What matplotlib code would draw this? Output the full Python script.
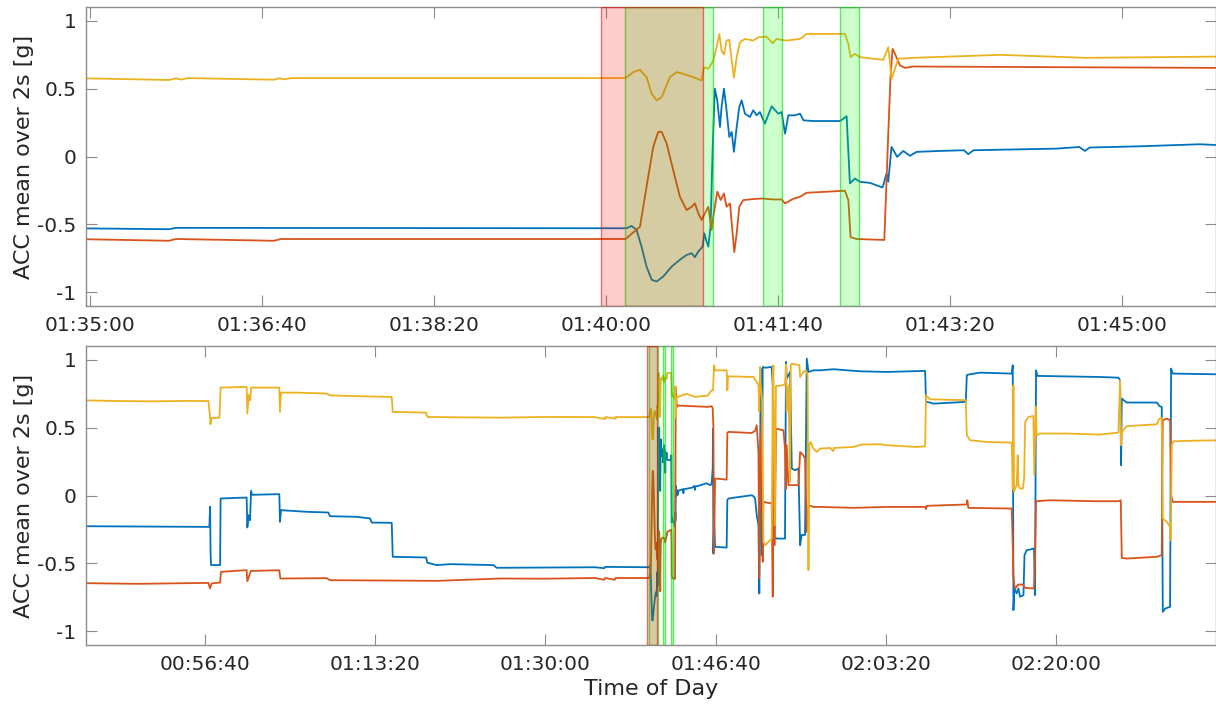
import numpy as np
import matplotlib
matplotlib.use("Agg")
import matplotlib.pyplot as plt
from matplotlib.ticker import FuncFormatter, MultipleLocator

# seconds of day, acceleration [g]  (x = blue, y = orange, z = yellow)
acc_x = [
    (2690, -0.226), (3000, -0.228), (3424, -0.231), (3428, -0.083), (3431, -0.427),
    (3434, -0.512), (3487, -0.512), (3490, -0.022), (3643, -0.015), (3647, -0.235),
    (3655, -0.145), (3663, -0.182), (3669, 0.034), (3675, 0.005), (3835, 0.010),
    (3839, -0.194), (3845, -0.108), (3996, -0.120), (4123, -0.125), (4133, -0.152),
    (4290, -0.157), (4369, -0.169), (4378, -0.199), (4496, -0.201), (4502, -0.451),
    (4698, -0.456), (4706, -0.495), (4761, -0.512), (4839, -0.505), (5094, -0.512),
    (5113, -0.532), (5400, -0.530), (5690, -0.528), (5746, -0.535), (5750, -0.525),
    (5985, -0.528), (6011.9, -0.528), (6014.8, -0.511), (6017.7, -0.540),
    (6020.6, -0.663), (6023.5, -0.810), (6026.5, -0.907), (6029.4, -0.920),
    (6033.2, -0.883), (6038.1, -0.810), (6042.9, -0.760), (6046.8, -0.724),
    (6049.7, -0.712), (6051.6, -0.741), (6053.6, -0.699), (6056.1, -0.663),
    (6057.1, -0.565), (6058.4, -0.626), (6059.4, -0.663), (6060.7, -0.516),
    (6061.9, 0.046), (6063.2, 0.499), (6064.6, 0.413), (6066.2, 0.217),
    (6067.1, 0.364), (6068.5, 0.499), (6070.0, 0.340), (6071.6, 0.144),
    (6073.0, 0.181), (6074.3, 0.034), (6075.9, 0.217), (6077.4, 0.364),
    (6078.8, 0.413), (6080.7, 0.315), (6083.6, 0.291), (6085.5, 0.340),
    (6087.5, 0.303), (6089.4, 0.327), (6092.3, 0.242), (6096.2, 0.369),
    (6100.1, 0.315), (6102.0, 0.327), (6104.0, 0.168), (6105.9, 0.303),
    (6109.8, 0.303), (6112.7, 0.315), (6114.7, 0.266), (6120.6, 0.261),
    (6136.0, 0.261), (6139.8, 0.296), (6141.7, -0.198), (6142.7, -0.186),
    (6144.6, -0.162), (6147.5, -0.186), (6153.3, -0.194), (6160.7, -0.228),
    (6163.0, -0.125), (6164.0, -0.186), (6165.9, 0.071), (6169.2, -0.003),
    (6172.7, 0.041), (6176.6, 0.005), (6180.5, 0.034), (6194, 0.041),
    (6208, 0.046), (6210.5, 0.017), (6213.5, 0.046), (6261.8, 0.058),
    (6275, 0.070), (6278.3, 0.041), (6281, 0.066), (6310, 0.075), (6345, 0.090),
    (6370, 0.076), (6377, 0.088), (6383, 0.198), (6385, 0.492), (6387, -0.427),
    (6391, -0.200), (6397, -0.378), (6465, -0.383), (6469, -0.035), (6475, -0.022),
    (6612, 0.002), (6622, -0.005), (6632, -0.020), (6642, -0.145), (6652, -0.218),
    (6657, -0.721), (6665, 0.934), (6671, -0.439), (6677, 0.946), (6691, 0.940),
    (6730, 0.946), (6736, 0.811), (6740, -0.304), (6760, -0.317), (6808, -0.317),
    (6814, 0.983), (6818, 0.860), (6828, 0.885), (6838, 0.909), (6848, 0.198),
    (6867, 0.186), (6887, 0.198), (6897, -0.366), (6906, -0.290), (6926, -0.290),
    (6936, 1.007), (6946, 0.909), (6975, 0.921), (7014, 0.921), (7093, 0.929),
    (7249, 0.914), (7406, 0.909), (7632, 0.917), (7637, 0.689), (7661, 0.684),
    (7681, 0.676), (7871, 0.689), (7877, 0.885), (7887, 0.890), (7955, 0.904),
    (8141, 0.897), (8147, 0.958), (8151, -0.843), (8157, -0.684), (8170, -0.720),
    (8180, -0.684), (8190, -0.745), (8210, -0.733), (8216, -0.439), (8229, -0.402),
    (8258, -0.395), (8272, -0.390), (8278, -0.733), (8284, 0.921), (8292, 0.880),
    (8660, 0.872), (8768, 0.867), (8778, 0.848), (8784, 0.223), (8788, 0.713),
    (8817, 0.684), (8994, 0.684), (9009, 0.659), (9023, 0.651), (9029, -0.856),
    (9043, -0.832), (9072, -0.819), (9078, 0.934), (9088, 0.897), (9340, 0.892),
]

acc_y = [
    (2690, -0.645), (3000, -0.650), (3418, -0.643), (3428, -0.684), (3437, -0.647),
    (3487, -0.640), (3492, -0.562), (3643, -0.549), (3647, -0.630), (3667, -0.555),
    (3835, -0.550), (3841, -0.611), (4114, -0.608), (4133, -0.623), (4761, -0.628),
    (5133, -0.611), (5400, -0.612), (5690, -0.607), (5746, -0.620), (5750, -0.607),
    (5807, -0.620), (5811, -0.607), (5985, -0.607), (6011.2, -0.607),
    (6012.0, -0.600), (6019.7, -0.516), (6023.5, -0.223), (6027.4, 0.071),
    (6030.3, 0.181), (6032.3, 0.181), (6035.2, 0.095), (6039.0, -0.100),
    (6042.9, -0.296), (6046.8, -0.394), (6049.7, -0.370), (6051.6, -0.345),
    (6053.6, -0.418), (6055.5, -0.467), (6057.5, -0.418), (6059.4, -0.370),
    (6061.3, -0.540), (6062.3, -0.443), (6064.6, -0.259), (6066.6, -0.320),
    (6068.5, -0.272), (6070.0, -0.370), (6072.0, -0.345), (6073.5, -0.565),
    (6074.5, -0.704), (6075.9, -0.565), (6077.4, -0.370), (6079.7, -0.321),
    (6085.5, -0.313), (6090.4, -0.309), (6097.2, -0.316), (6102.0, -0.316),
    (6104.0, -0.345), (6108.8, -0.311), (6112.7, -0.296), (6116.5, -0.267),
    (6138.8, -0.252), (6140.8, -0.321), (6142.1, -0.594), (6145.6, -0.607),
    (6160.1, -0.614), (6161.7, -0.614), (6164.0, 0.168), (6165.3, 0.584),
    (6166.5, 0.792), (6167.9, 0.755), (6170.8, 0.670), (6173.7, 0.652),
    (6178.5, 0.662), (6260, 0.657), (6354, 0.652),
    (6377, 0.657), (6383, 0.640), (6387, 0.505), (6391, -0.427), (6397, 0.125),
    (6465, 0.117), (6469, 0.460), (6475, 0.468), (6612, 0.460), (6632, 0.475),
    (6642, 0.517), (6652, 0.320), (6657, -0.610), (6665, 0.370), (6673, 0.603),
    (6677, -0.488), (6681, -0.047), (6730, -0.059), (6736, -0.745), (6740, 0.345),
    (6748, -0.365), (6755, 0.492), (6799, 0.480), (6808, 0.345), (6814, 0.051),
    (6818, 0.370), (6828, 0.076), (6887, 0.076), (6897, 0.320), (6916, 0.296),
    (6926, 0.272), (6936, -0.267), (6946, -0.071), (6975, -0.084), (7014, -0.084),
    (7210, -0.091), (7406, -0.084), (7632, -0.084), (7637, -0.100), (7641, -0.076),
    (7876, -0.066), (7880, -0.035), (7886, -0.091), (8141, -0.096), (8147, -0.365),
    (8151, -0.586), (8157, -0.672), (8161, -0.684), (8180, -0.655), (8206, -0.655),
    (8220, -0.680), (8272, -0.684), (8278, -0.460), (8284, -0.042), (8366, -0.035),
    (8621, -0.042), (8768, -0.042), (8782, -0.035), (8788, -0.459), (8817, -0.464),
    (8994, -0.451), (9023, -0.439), (9029, 0.554), (9053, 0.566), (9072, 0.554),
    (9078, 0.002), (9088, -0.047), (9340, -0.047),
]

acc_z = [
    (2690, 0.700), (2900, 0.695), (3100, 0.693), (3300, 0.696), (3418, 0.695),
    (3428, 0.578), (3430, 0.524), (3436, 0.570), (3483, 0.573), (3490, 0.794),
    (3643, 0.799), (3647, 0.603), (3655, 0.740), (3663, 0.700), (3670, 0.794),
    (3835, 0.794), (3839, 0.615), (3845, 0.757), (3937, 0.757), (4114, 0.750),
    (4133, 0.737), (4290, 0.731), (4496, 0.725), (4502, 0.615), (4698, 0.610),
    (4706, 0.578), (4900, 0.575), (5133, 0.573), (5400, 0.578), (5690, 0.577),
    (5746, 0.563), (5750, 0.575), (5753, 0.566), (5757, 0.577), (5807, 0.565),
    (5810, 0.576), (5813, 0.568), (5817, 0.577), (5985, 0.577), (6011.2, 0.577),
    (6015.8, 0.621), (6019.7, 0.638), (6023.5, 0.584), (6026.5, 0.462),
    (6029.4, 0.413), (6032.3, 0.437), (6037.1, 0.584), (6041.0, 0.621),
    (6044.9, 0.608), (6050.7, 0.584), (6055.5, 0.560), (6056.9, 0.657),
    (6059.4, 0.645), (6062.3, 0.706), (6064.2, 0.804), (6065.8, 0.902),
    (6067.1, 0.780), (6068.5, 0.750), (6070.0, 0.853), (6071.6, 0.858),
    (6073.0, 0.706), (6074.3, 0.579), (6075.9, 0.731), (6077.8, 0.841),
    (6080.7, 0.865), (6085.5, 0.853), (6088.5, 0.877), (6093.3, 0.882),
    (6096.8, 0.833), (6099.1, 0.865), (6102.0, 0.858), (6104.9, 0.853),
    (6112.7, 0.865), (6116.5, 0.902), (6138.8, 0.902), (6140.8, 0.829),
    (6142.1, 0.731), (6144.6, 0.755), (6147.5, 0.731), (6161.1, 0.711),
    (6164.0, 0.804), (6165.9, 0.572), (6169.8, 0.719), (6178.5, 0.726),
    (6229, 0.748), (6279, 0.726), (6354, 0.735),
    (6377, 0.774), (6385, 0.774), (6391, 0.958), (6397, 0.921), (6465, 0.921),
    (6469, 0.774), (6473, 0.877), (6612, 0.872), (6622, 0.872), (6642, 0.835),
    (6652, 0.811), (6657, 0.615), (6661, 0.946), (6665, 0.811), (6673, 0.713),
    (6681, -0.341), (6691, -0.366), (6730, -0.317), (6736, 0.786), (6740, 0.958),
    (6748, -0.218), (6755, 0.806), (6769, 0.806), (6808, 0.816), (6814, 0.963),
    (6818, 0.615), (6828, 0.811), (6838, 0.100), (6842, 0.958), (6848, 0.970),
    (6893, 0.958), (6897, 0.872), (6916, 0.909), (6932, 0.921), (6941, 0.885),
    (6946, -0.549), (6951, 0.370), (6958, 0.394), (6975, 0.345), (6995, 0.321),
    (7014, 0.345), (7073, 0.350), (7092, 0.326), (7096, 0.350), (7210, 0.357),
    (7259, 0.375), (7367, 0.377), (7406, 0.370), (7583, 0.357), (7632, 0.362),
    (7637, 0.737), (7661, 0.708), (7871, 0.701), (7877, 0.443), (7896, 0.407),
    (7994, 0.394), (8141, 0.389), (8147, 0.051), (8151, 0.811), (8155, 0.027),
    (8161, 0.051), (8170, 0.075), (8176, 0.296), (8180, 0.075), (8190, 0.051),
    (8206, 0.051), (8214, 0.125), (8220, 0.541), (8239, 0.578), (8268, 0.585),
    (8274, 0.149), (8282, 0.652), (8288, 0.443), (8308, 0.456), (8464, 0.456),
    (8660, 0.448), (8768, 0.463), (8778, 0.848), (8784, 0.370), (8790, 0.470),
    (8817, 0.510), (8994, 0.524), (9009, 0.566), (9023, 0.571), (9029, -0.170),
    (9053, -0.194), (9072, -0.231), (9076, -0.329), (9082, 0.370), (9092, 0.399),
    (9170, 0.402), (9340, 0.406),
]

# marked intervals [s of day]
red_spans = [(5997.2, 6056.1)]
green_spans = [(6011.1, 6062.3), (6091.0, 6102.2), (6136.1, 6147.1)]

zoom_xlim = (5697.7, 6354.2)
full_xlim = (2698.6, 9339.0)

colors = ["#0072BD", "#D95319", "#EDB120"]
axis_col = "#8c8c8c"
text_col = "#262626"

plt.rcParams["axes.unicode_minus"] = False
plt.rcParams["font.family"] = "DejaVu Sans"


def hms(x, pos=None):
    x = int(round(x)) % 86400
    return "%02d:%02d:%02d" % (x // 3600, (x % 3600) // 60, x % 60)


def draw_panel(ax, xlim, step):
    for series, c in zip([acc_x, acc_y, acc_z], colors):
        arr = np.array(series)
        ax.plot(arr[:, 0], arr[:, 1], color=c, lw=1.3, zorder=2)
    for a, b in green_spans:
        ax.axvspan(a, b, facecolor=(0, 1, 0, 0.2), edgecolor=(0, 0.85, 0, 0.6),
                   lw=1.0, zorder=3)
    for a, b in red_spans:
        ax.axvspan(a, b, facecolor=(1, 0, 0, 0.2), edgecolor=(0.95, 0, 0, 0.55),
                   lw=1.0, zorder=3)
    ax.set_xlim(*xlim)
    ax.set_ylim(-1.1, 1.1)
    ax.xaxis.set_major_locator(MultipleLocator(step))
    ax.xaxis.set_major_formatter(FuncFormatter(hms))
    ax.set_yticks([-1, -0.5, 0, 0.5, 1])
    ax.yaxis.set_major_formatter(FuncFormatter(lambda v, p: "%g" % v))
    ax.tick_params(direction="in", top=True, right=True, length=8, width=0.8,
                   color=axis_col, labelsize=14.5, labelcolor=text_col, pad=7)
    for s in ax.spines.values():
        s.set_color(axis_col)
        s.set_linewidth(1.0)
    ax.set_ylabel("ACC mean over 2s [g]", fontsize=16, color=text_col, labelpad=2)


fig = plt.figure(figsize=(12.16, 7.06), dpi=100)
ax1 = fig.add_axes([86 / 1216, 1 - 306 / 706, 1129.5 / 1216, 299 / 706])
ax2 = fig.add_axes([86 / 1216, 1 - 645 / 706, 1129.5 / 1216, 299 / 706])

draw_panel(ax1, zoom_xlim, 100)
draw_panel(ax2, full_xlim, 1000)
# bottom ticks fall on 00:56:40, 01:13:20, ... (multiples of 1000 s + 400 s)
ax2.xaxis.set_major_locator(MultipleLocator(1000, offset=400))
ax2.set_xlabel("Time of Day", fontsize=16, color=text_col, labelpad=4)

fig.savefig("out.png", dpi=100)
